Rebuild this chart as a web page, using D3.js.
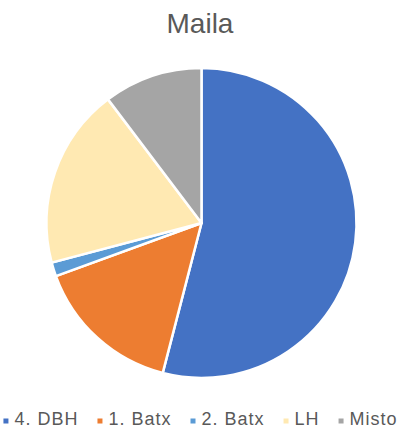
<!DOCTYPE html>
<html>
<head>
<meta charset="utf-8">
<script src="https://cdn.jsdelivr.net/npm/d3@7"></script>
<style>
  html, body { margin: 0; padding: 0; background: #fff; }
  svg { display: block; font-family: "Liberation Sans", Arial, sans-serif; }
</style>
</head>
<body>
<svg id="chart" width="401" height="429"></svg>
<script>
const title = "Maila";
const categories = ["4. DBH", "1. Batx", "2. Batx", "LH", "Misto"];
const values = [54.0, 15.4, 1.45, 18.8, 10.3];
const colors = ["#4472C4", "#ED7D31", "#5B9BD5", "#FFE9B2", "#A5A5A5"];

const svg = d3.select("#chart");
const W = 401, H = 429;
const cx = 201.5, cy = 223, R = 155;

svg.append("text")
  .attr("x", 200).attr("y", 33)
  .attr("text-anchor", "middle")
  .attr("font-size", 28)
  .attr("fill", "#595959")
  .text(title);

const data = categories.map((c, i) => ({ name: c, value: values[i] }));
const color = d3.scaleOrdinal().domain(categories).range(colors);

const pie = d3.pie().value(d => d.value).sort(null);
const arc = d3.arc().innerRadius(0).outerRadius(R);

svg.append("g")
  .attr("transform", `translate(${cx},${cy})`)
  .selectAll("path")
  .data(pie(data))
  .join("path")
  .attr("d", arc)
  .attr("fill", d => color(d.data.name))
  .attr("stroke", "#fff")
  .attr("stroke-width", 2.5)
  .attr("stroke-linejoin", "round");

// Legend
const legend = svg.append("g");
const items = legend.selectAll("g").data(categories).join("g");
items.append("rect")
  .attr("width", 5).attr("height", 5)
  .attr("y", -6.5)
  .attr("fill", d => color(d));
items.append("text")
  .attr("x", 11)
  .attr("y", 0)
  .attr("font-size", 18)
  .attr("letter-spacing", 1)
  .attr("fill", "#595959")
  .text(d => d);

const gap = 19;
const widths = [];
items.each(function() {
  const w = 11 + d3.select(this).select("text").node().getComputedTextLength();
  widths.push(w);
});
const total = d3.sum(widths) + gap * (widths.length - 1);
const start = (W - total) / 2;
items.attr("transform", (d, i) => {
  const x = start + d3.sum(widths.slice(0, i)) + gap * i;
  return `translate(${x},${425})`;
});
</script>
</body>
</html>
